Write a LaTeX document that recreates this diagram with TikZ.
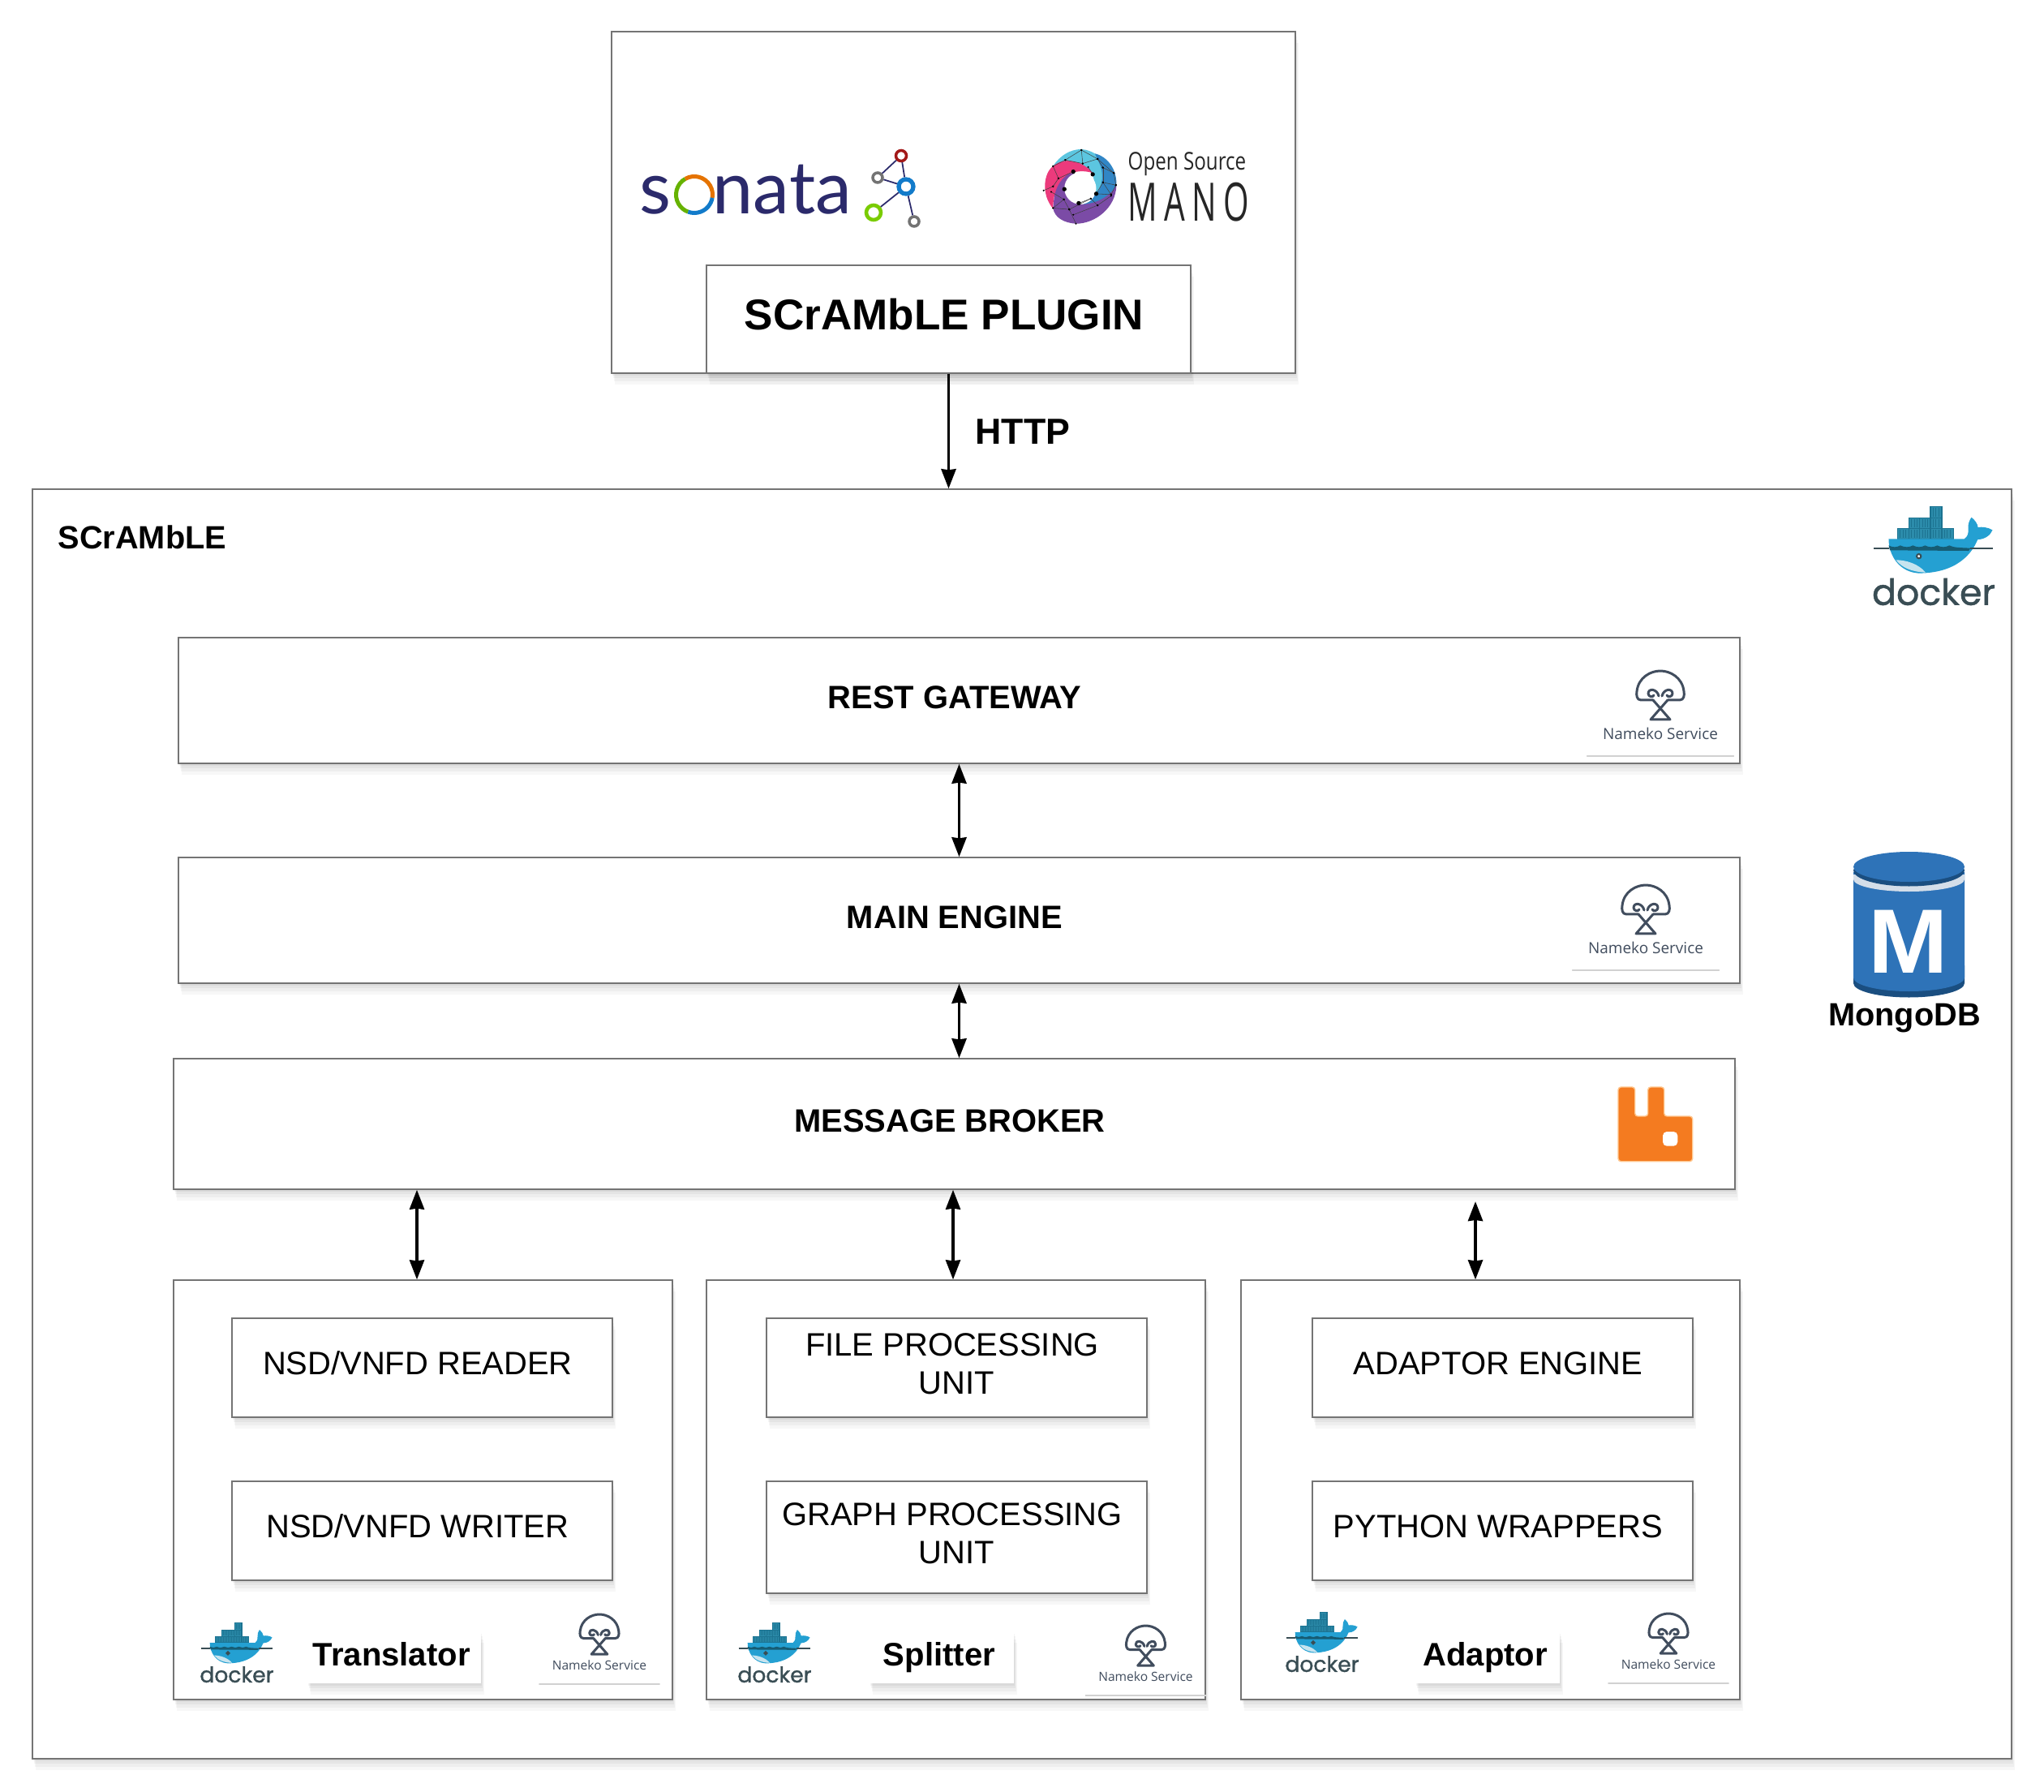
\documentclass[tikz,border=0pt]{standalone}
\usepackage{fontspec}
\setmainfont{Liberation Sans}
\newfontfamily\logofont{Lato}
\newfontfamily\dockerfont[FakeBold=1.1]{Poppins}
\newfontfamily\namekofont{Open Sans}
\newfontfamily\osmfont[FakeStretch=.8]{Open Sans}
\newfontfamily\manofont[FakeStretch=.62,LetterSpace=12.5]{Open Sans}
\usetikzlibrary{arrows, arrows.meta, positioning, shadows}

\definecolor{boxline}{HTML}{747474}
\definecolor{sonatanavy}{HTML}{2B2A6B}
\definecolor{dockerblue}{HTML}{24A0D2}
\definecolor{dockerteal}{HTML}{1C7391}
\definecolor{dockerbox}{HTML}{2C8CAB}
\definecolor{dockerdark}{HTML}{394D54}
\definecolor{namekoink}{HTML}{414D5E}
\definecolor{mongoblue}{HTML}{2E73B8}
\definecolor{mongodark}{HTML}{1A4E80}
\definecolor{mongoband}{HTML}{D4DEE9}
\definecolor{rabbitorange}{HTML}{F47B20}
\definecolor{osmcyan}{HTML}{5CC6E0}
\definecolor{osmblue}{HTML}{3186C6}
\definecolor{osmpurple}{HTML}{7B4BA6}
\definecolor{osmpink}{HTML}{EC3A7C}

\tikzstyle{softshadow} = [drop shadow={shadow xshift=.01cm, shadow yshift=-.03cm, opacity=.04, fill=black},
  drop shadow={shadow xshift=.02cm, shadow yshift=-.06cm, opacity=.04, fill=black},
  drop shadow={shadow xshift=.03cm, shadow yshift=-.10cm, opacity=.035, fill=black},
  drop shadow={shadow xshift=.04cm, shadow yshift=-.14cm, opacity=.03, fill=black}]
\tikzstyle{frame} = [rectangle, draw=boxline, line width=.4pt, fill=white, softshadow]
\tikzstyle{service} = [frame, minimum width=19.25cm, minimum height=1.55cm, align=center, text height=.3cm, text depth=.1cm, font=\fontsize{11.35pt}{13pt}\selectfont\bfseries]
\tikzstyle{worker} = [frame, minimum width=6.15cm, minimum height=5.17cm]
\tikzstyle{unit} = [frame, minimum width=4.69cm, minimum height=1.22cm, align=center, text depth=.1cm, font=\fontsize{11.37pt}{13.4pt}\selectfont]
\tikzstyle{oneline} = [text height=.27cm]
\tikzstyle{namebox} = [rectangle, fill=white, softshadow, minimum height=.58cm, inner xsep=.035cm, text height=.3cm, text depth=.1cm, font=\fontsize{11.4pt}{13pt}\selectfont\bfseries]
\tikzstyle{title} = [inner sep=0pt, font=\fontsize{11.3pt}{13pt}\selectfont\bfseries]
\tikzstyle{arrow} = [line width=1pt,->,>={Stealth[length=.24cm,width=.18cm,inset=.01cm]}]
\tikzstyle{dualarrow} = [line width=1pt,<->,>={Stealth[length=.24cm,width=.18cm,inset=.01cm]}]
\tikzstyle{graphdot} = [circle, draw, fill=white, inner sep=0pt, line width=1pt]

\tikzset{
  dockerlogo/.pic={
    \begin{scope}[x=.00333cm,y=-.00333cm,shift={(-252,-213)}]
    \foreach \xa/\ya/\xb/\yb in {118/110/160/148,160/110/200/148,200/110/240/148,240/110/282/148,282/110/325/148,160/70/200/110,200/70/240/110,240/70/282/110,240/27/282/70} {
      \draw [dockerteal, fill=dockerbox, line width=.012cm] (\xa,\ya) rectangle (\xb,\yb);
      \draw [dockerteal, line width=.008cm] (\xa+10,\ya+5) -- (\xa+10,\yb-5) (\xa+20,\ya+5) -- (\xa+20,\yb-5) (\xa+30,\ya+5) -- (\xa+30,\yb-5);
    }
    \fill [dockerblue] (85,148) -- (365,148) .. controls (378,140) and (382,125) .. (380,110)
      .. controls (378,95) and (384,78) .. (392,68) .. controls (405,78) and (415,92) .. (416,105)
      .. controls (430,102) and (455,105) .. (470,115) .. controls (462,135) and (440,150) .. (415,150)
      .. controls (395,200) and (340,275) .. (195,275) .. controls (125,270) and (85,210) .. (85,148) -- cycle;
    \fill [dockerteal!80!black] (85,172) .. controls (100,180) and (115,180) .. (128,172)
      .. controls (145,180) and (160,180) .. (175,172) .. controls (190,180) and (205,180) .. (220,172)
      .. controls (235,180) and (250,180) .. (265,172) .. controls (280,180) and (295,180) .. (310,172)
      .. controls (325,180) and (345,180) .. (388,182) -- (382,192) -- (90,190) -- cycle;
    \fill [black!8!dockerblue!25] (112,226) .. controls (150,226) and (195,240) .. (222,272)
      .. controls (170,270) and (135,255) .. cycle;
    \draw [dockerdark, line width=.02cm] (30,182) -- (88,182) (386,182) -- (470,182);
    \draw [dockerdark, fill=white, line width=.02cm] (197,212) circle (8);
    \node (-word) [inner sep=0pt, transform shape, text=dockerdark, font=\fontsize{12.6pt}{14pt}\dockerfont] at (252,344) {docker};
    \end{scope}
  },
  namekologo/.pic={
    \begin{scope}[x=.01cm,y=.01cm, namekoink, line width=.03cm, line cap=round, line join=round]
    \draw (-9,-36) -- (-24,-36) .. controls (-29,-36) and (-30,-30) .. (-29,-25)
      .. controls (-27,-8) and (-12,0) .. (0,0) .. controls (12,0) and (27,-8) .. (29,-25)
      .. controls (30,-30) and (29,-36) .. (24,-36) -- (9,-36);
    \draw (-2,-31) .. controls (-4,-22) and (-15,-21) .. (-15,-28) .. controls (-15,-32) and (-9,-33) .. (-8,-30);
    \draw (2,-31) .. controls (4,-22) and (15,-21) .. (15,-28) .. controls (15,-32) and (9,-33) .. (8,-30);
    \draw (-9,-36) -- (12,-60) -- (-12,-60) -- (9,-36);
    \node (-word) [inner sep=0pt, transform shape, text=namekoink, font=\fontsize{5.4pt}{7pt}\namekofont] at (0,-77) {Nameko Service};
    \draw [black!18, line width=.012cm] (-90.5,-105) -- (90.5,-105);
    \end{scope}
  }
}

\begin{document}
\begin{tikzpicture}
\useasboundingbox (0,0) rectangle (25.2,-22.09);

% Boxes
\node (scramble) [frame, minimum width=24.40cm, minimum height=15.65cm] at (12.60,-13.855) {};
\node (manobox) [frame, minimum width=8.43cm, minimum height=4.21cm] at (11.755,-2.495) {};
\node (plugin) [frame, minimum width=5.97cm, minimum height=1.33cm, align=center, text height=.41cm, text depth=.14cm, font=\fontsize{15.1pt}{18pt}\selectfont\bfseries] at (11.695,-3.935) {SCrAMbLE PLUGIN\kern.11cm};

\node (rest) [service] at (11.825,-8.635) {REST GATEWAY~};
\node (engine) [service, below of=rest, node distance=2.71cm] {MAIN ENGINE~};
\node (broker) [service, minimum height=1.61cm, below of=engine, node distance=2.51cm, xshift=-.06cm] {MESSAGE BROKER~};

\node (translator) [worker] at (5.215,-18.365) {};
\node (splitter) [worker] at (11.785,-18.365) {};
\node (adaptor) [worker] at (18.375,-18.365) {};

\node (reader) [unit, oneline] at (5.205,-16.86) {NSD/VNFD READER~};
\node (writer) [unit, oneline, below of=reader, node distance=2.01cm] {NSD/VNFD WRITER~};
\node (fileunit) [unit] at (11.795,-16.86) {FILE PROCESSING\kern.11cm\\UNIT};
\node (graphunit) [unit, minimum height=1.38cm, below of=fileunit, node distance=2.09cm] {GRAPH PROCESSING\kern.11cm\\UNIT};
\node (adaptorengine) [unit, oneline] at (18.525,-16.86) {ADAPTOR ENGINE~};
\node (wrappers) [unit, oneline, below of=adaptorengine, node distance=2.01cm] {PYTHON WRAPPERS~};

% Labels
\node (scramblelabel) [title, anchor=west] at (0.71,-6.62) {SCrAMbLE};
\node (httplabel) [title, anchor=west, font=\fontsize{12.7pt}{14pt}\selectfont\bfseries] at (12.02,-5.32) {HTTP};
\node (mongolabel) [title] at (23.48,-12.55) {MongoDB};
\node (translatorlabel) [namebox, minimum width=2.14cm] at (4.855,-20.43) {Translator\kern.055cm};
\node (splitterlabel) [namebox, minimum width=1.78cm] at (11.607,-20.43) {Splitter\kern.055cm};
\node (adaptorlabel) [namebox, minimum width=1.78cm] at (18.34,-20.43) {Adaptor\kern.055cm};

% Arrows
\coordinate (adaptortop) at (18.19,-14.81);
\draw [arrow] (plugin.south) -- (plugin.south |- scramble.north);
\draw [dualarrow] (rest) -- (engine);
\draw [dualarrow] (engine.south) -- (engine.south |- broker.north);
\draw [dualarrow] ([xshift=-.075cm]translator.north |- broker.south) -- ([xshift=-.075cm]translator.north);
\draw [dualarrow] ([xshift=-.035cm]splitter.north |- broker.south) -- ([xshift=-.035cm]splitter.north);
\draw [dualarrow] (adaptortop) -- (adaptortop |- adaptor.north);

% Sonata logo
\node (sonata) [inner sep=0pt, anchor=base west, text=sonatanavy, font=\fontsize{25.6pt}{28pt}\logofont] at (7.88,-2.64) {s{\color{white}o}nata};
\draw [green!50!black!60!yellow, line width=.05cm] (8.56,-2.40) ++(120:.225) arc (120:250:.225);
\draw [orange!90!black, line width=.05cm] (8.56,-2.40) ++(120:.225) arc (120:-10:.225);
\draw [cyan!60!blue, line width=.05cm] (8.56,-2.40) ++(-10:.225) arc (-10:-110:.225);
\node (nodered) [graphdot, draw=red!60!black!90!white, minimum size=.13cm] at (11.11,-1.92) {};
\node (nodeleft) [graphdot, draw=black!55, minimum size=.12cm] at (10.82,-2.19) {};
\node (nodeblue) [graphdot, draw=cyan!60!blue, line width=1.5pt, minimum size=.18cm] at (11.17,-2.30) {};
\node (nodegreen) [graphdot, draw=green!40!yellow!80!black, line width=1.3pt, minimum size=.18cm] at (10.77,-2.62) {};
\node (nodeend) [graphdot, draw=black!55, minimum size=.12cm] at (11.27,-2.73) {};
\draw [sonatanavy, line width=.5pt] (nodered) -- (nodeleft);
\draw [sonatanavy, line width=.5pt] (nodered) -- (nodeblue);
\draw [sonatanavy, line width=.5pt] (nodeleft) -- (nodeblue);
\draw [sonatanavy, line width=.5pt] (nodegreen) -- (nodeblue);
\draw [sonatanavy, line width=.5pt] (nodeblue) -- (nodeend);

% Open Source MANO logo
\begin{scope}[shift={(12.70,-1.70)}, x=.00333cm, y=-.00333cm]
\fill [osmcyan] (85,105) .. controls (110,65) and (150,42) .. (190,42) .. controls (235,45) and (270,75) .. (280,110) -- (270,165) -- (245,207) -- (232,130) -- (150,85) -- cycle;
\fill [osmblue] (240,58) .. controls (290,70) and (322,120) .. (320,175) -- (300,225) -- (190,252) -- (245,205) .. controls (270,180) and (275,130) .. (255,90) -- cycle;
\fill [osmpurple] (320,175) .. controls (318,260) and (240,318) .. (170,318) .. controls (125,315) and (90,295) .. (85,260) -- (95,160) -- (140,125) -- (200,150) -- (180,245) .. controls (220,250) and (290,230) .. (320,175) -- cycle;
\fill [osmpink] (85,105) .. controls (50,130) and (40,210) .. (85,262) .. controls (85,220) and (95,165) .. (140,135) .. controls (170,122) and (200,120) .. (232,130) .. controls (200,90) and (130,65) .. (85,105) -- cycle;
\fill [white] (186,187) circle (59);
\foreach \xa/\ya/\xb/\yb in {130/82/190/45,190/45/250/78,250/78/310/130,310/130/318/175,318/175/300/210,195/95/190/45,195/95/250/78,130/82/195/95,250/78/270/110,270/110/310/130,270/165/318/175,270/165/300/210,270/110/270/165,85/105/130/82,85/105/105/150,85/180/105/150,50/195/85/180,78/200/125/228,85/260/125/228,85/260/145/265,125/228/145/265,145/265/170/318,145/265/225/225,225/225/250/250,250/250/300/215,160/285/250/250,232/135/215/108,160/125/105/150,180/242/225/225,245/207/300/210,245/207/270/165} {
  \draw [black!75, line width=.15pt] (\xa,\ya) -- (\xb,\yb);
  \fill [black] (\xa,\ya) circle (3.5) (\xb,\yb) circle (3.5);
}
\foreach \xa/\ya in {160/125,232/135,245/207,180/242,127/190} {
  \fill [black] (\xa,\ya) circle (8);
}
\end{scope}
\node (osmword) [inner sep=0pt, anchor=base west, text=black!85, font=\fontsize{8.6pt}{10pt}\osmfont] at (13.90,-2.10) {Open Source};
\node (manoword) [inner sep=0pt, anchor=base west, text=black!85, font=\fontsize{18.6pt}{20pt}\manofont] at (13.90,-2.73) {MANO};

% Docker logos
\pic (mainwhale) at (23.84,-6.86) {dockerlogo};
\pic (translatorwhale) [scale=.6] at (2.92,-20.38) {dockerlogo};
\pic (splitterwhale) [scale=.6] at (9.55,-20.38) {dockerlogo};
\pic (adaptorwhale) [scale=.6] at (16.30,-20.25) {dockerlogo};

% Nameko logos
\pic (restnameko) at (20.47,-8.27) {namekologo};
\pic (enginenameko) at (20.29,-10.91) {namekologo};
\pic (translatornameko) [scale=.82] at (7.39,-19.90) {namekologo};
\pic (splitternameko) [scale=.82] at (14.125,-20.04) {namekologo};
\pic (adaptornameko) [scale=.82] at (20.57,-19.89) {namekologo};

% MongoDB icon
\fill [mongodark] (22.85,-11.90) rectangle (24.22,-12.12) (23.535,-12.12) ellipse (.685 and .175);
\fill [mongoblue] (22.85,-10.75) rectangle (24.22,-12.05) (23.535,-12.05) ellipse (.685 and .17);
\fill [mongoband] (22.85,-10.78) -- (22.85,-10.84) arc (180:360:.685 and .15) -- (24.22,-10.78) -- cycle;
\fill [mongodark] (23.535,-10.73) ellipse (.685 and .195);
\fill [mongoblue] (23.535,-10.685) ellipse (.685 and .185);
\node (mongoletter) [inner sep=0pt, xscale=1.05, text=white, font=\fontsize{32pt}{34pt}\selectfont\bfseries] at (23.53,-11.61) {M};

% Rabbit logo
\fill [rabbitorange, draw=orange!45!white, line width=.4pt, rounded corners=.035cm] (19.95,-13.40) -- (20.157,-13.40) -- (20.157,-13.76) -- (20.317,-13.76) -- (20.317,-13.40) -- (20.517,-13.40) -- (20.517,-13.76) -- (20.867,-13.76) -- (20.867,-14.317) -- (19.95,-14.317) -- cycle;
\fill [white, rounded corners=.05cm] (20.50,-13.95) rectangle (20.683,-14.127);
\end{tikzpicture}
\end{document}
